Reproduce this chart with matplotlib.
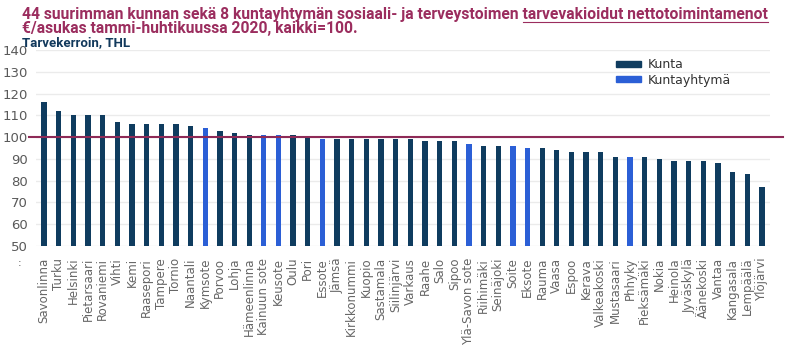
import matplotlib.pyplot as plt
from matplotlib.lines import Line2D
from matplotlib.patches import Patch

# Tiedot
alueet = ["Savonlinna", "Turku", "Helsinki", "Pietarsaari", "Rovaniemi", "Vihti", "Kemi",
          "Raasepori", "Tampere", "Tornio", "Naantali", "Kymsote", "Porvoo", "Lohja",
          "Hämeenlinna", "Kainuun sote", "Keusote", "Oulu", "Pori", "Essote", "Jämsä",
          "Kirkkonummi", "Kuopio", "Sastamala", "Siilinjärvi", "Varkaus", "Raahe", "Salo",
          "Sipoo", "Ylä-Savon sote", "Riihimäki", "Seinäjoki", "Soite", "Eksote", "Rauma",
          "Vaasa", "Espoo", "Kerava", "Valkeakoski", "Mustasaari", "Phhyky", "Pieksämäki",
          "Nokia", "Heinola", "Jyväskylä", "Äänekoski", "Vantaa", "Kangasala", "Lempäälä",
          "Ylöjärvi"]
arvot = [116, 112, 110, 110, 110, 107, 106, 106, 106, 106, 105, 104, 103, 102,
         101, 101, 101, 101, 100, 99, 99, 99, 99, 99, 99, 99, 98, 98,
         98, 97, 96, 96, 96, 95, 95, 94, 93, 93, 93, 91, 91, 91,
         90, 89, 89, 89, 88, 84, 83, 77]
kuntayhtymat = ["Kymsote", "Kainuun sote", "Keusote", "Essote", "Ylä-Savon sote",
                "Soite", "Eksote", "Phhyky"]

vari_kunta = "#0f3c5f"
vari_ky = "#2b5fd6"
vari_otsikko = "#9b2d5e"
otsikko_fontti = ["Roboto", "DejaVu Sans"]
otsikko_1 = "44 suurimman kunnan sekä 8 kuntayhtymän sosiaali- ja terveystoimen "
otsikko_1b = "tarvevakioidut nettotoimintamenot"
otsikko_2 = "€/asukas tammi-huhtikuussa 2020, kaikki=100."

fig = plt.figure(figsize=(7.9, 3.57), dpi=100)
ax = fig.add_axes([36/790, 1-246/357, 734/790, 196/357])

x = list(range(len(alueet)))
varit = [vari_ky if a in kuntayhtymat else vari_kunta for a in alueet]
ax.bar(x, [a - 50 for a in arvot], bottom=50, width=0.36, color=varit, zorder=3)

ax.set_ylim(50, 140)
ax.set_xlim(-0.55, len(alueet) - 0.45)
ax.set_yticks(range(50, 141, 10))
ax.yaxis.grid(True, color="#ebebeb", linewidth=1, zorder=0)
for s in ax.spines.values():
    s.set_visible(False)
ax.tick_params(axis="y", length=0, labelsize=9.5, labelcolor="#595959", pad=6)
ax.tick_params(axis="x", length=0, labelsize=8.5, labelcolor="#666666", pad=8.5)
ax.set_xticks(x)
ax.set_xticklabels(alueet, rotation=90)

# kaikki=100 viiva
ax.axhline(100, xmin=-0.01, xmax=1.018, color="#8e2a57", linewidth=1.5, clip_on=False, zorder=4)

# Selite
kahvat = [Patch(color=vari_kunta), Patch(color=vari_ky)]
leg = ax.legend(kahvat, ["Kunta", "Kuntayhtymä"], loc="upper left",
                bbox_to_anchor=(0.775, 1.015), frameon=False, fontsize=9,
                handlelength=2.0, handleheight=0.35, handletextpad=0.5,
                labelspacing=0.2, labelcolor="#333333")

fig.text(20/790, 1-266/357, ":", fontsize=8, color="#555555", ha="center")

# Otsikot - fonttikoko sovitetaan niin, että 1. rivi on n. 746 px leveä
fig.canvas.draw()
r = fig.canvas.get_renderer()
koe = fig.text(0, 0, otsikko_1 + otsikko_1b, fontsize=12, fontweight="bold",
               family=otsikko_fontti)
koko = 12 * 746 / koe.get_window_extent(r).width
koe.remove()

rivi1 = fig.text(22/790, 1-15/357, otsikko_1 + otsikko_1b, fontsize=koko, fontweight="bold",
                 color=vari_otsikko, va="center", family=otsikko_fontti)
bb = rivi1.get_window_extent(r)
koe = fig.text(0, 0, otsikko_1b, fontsize=koko, fontweight="bold", family=otsikko_fontti)
leveys_b = koe.get_window_extent(r).width
koe.remove()
fig.add_artist(Line2D([(bb.x1 - leveys_b)/790, bb.x1/790], [(bb.y0 + 0.5)/357] * 2,
                      color=vari_otsikko, linewidth=0.8))
fig.text(22/790, 1-29/357, otsikko_2, fontsize=koko, fontweight="bold",
         color=vari_otsikko, va="center", family=otsikko_fontti)
fig.text(22/790, 1-43/357, "Tarvekerroin, THL", fontsize=9.5, fontweight="bold",
         color="#12395c", va="center", family=otsikko_fontti)

plt.savefig("out.png", dpi=100)
